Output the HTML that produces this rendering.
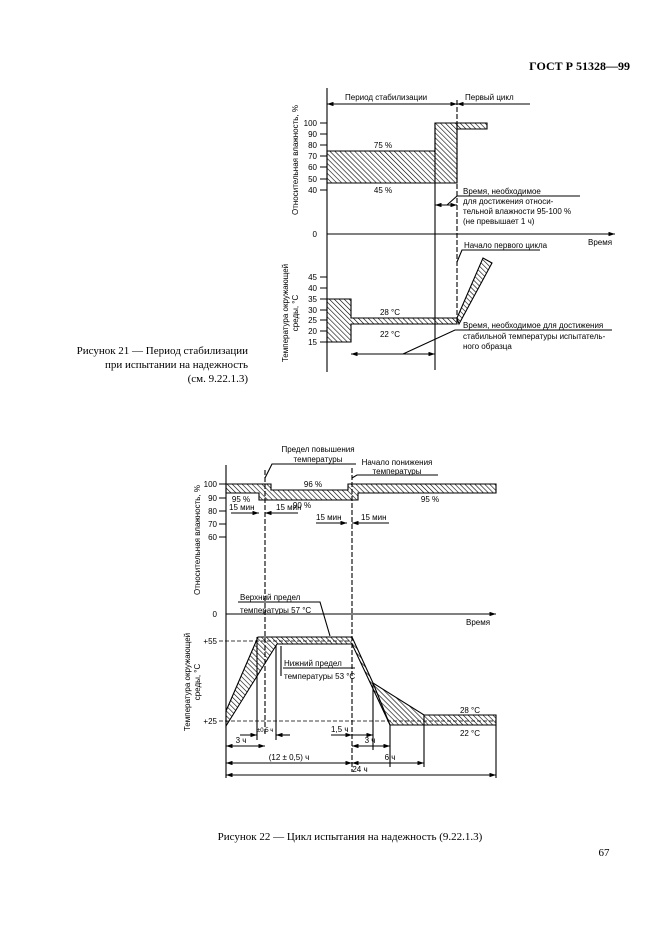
<!DOCTYPE html>
<html><head><meta charset="utf-8"><style>
html,body{margin:0;padding:0;background:#fff;}
svg{display:block;}
text{font-family:"Liberation Sans",sans-serif;font-size:8px;fill:#000;}
.s{font-family:"Liberation Serif",serif;font-size:11px;}
</style></head><body>
<svg width="661" height="935" viewBox="0 0 661 935" xmlns="http://www.w3.org/2000/svg">
<defs>
<pattern id="h" patternUnits="userSpaceOnUse" width="3.5" height="3.5" patternTransform="rotate(-45)">
<line x1="0" y1="0" x2="0" y2="3.5" stroke="#000" stroke-width="1.2"/></pattern>
<marker id="a" markerWidth="6" markerHeight="4" refX="6" refY="2" orient="auto-start-reverse"><path d="M0,0L6,2L0,4z" fill="#000"/></marker>
</defs>
<g stroke="#000" fill="none" stroke-width="1.1">
<text x="630" y="70" text-anchor="end" class="s" style="font-weight:bold;font-size:12px" stroke="none">ГОСТ Р 51328—99</text>

<!-- Figure 21 -->
<line x1="327" y1="88" x2="327" y2="372"/>
<line x1="327" y1="104" x2="457" y2="104" marker-start="url(#a)" marker-end="url(#a)"/>
<line x1="457" y1="104" x2="530" y2="104" marker-start="url(#a)"/>
<line x1="457" y1="100" x2="457" y2="322" stroke-dasharray="5,2"/>
<line x1="435" y1="123" x2="435" y2="370"/>
<path d="M320,123h7M320,134h7M320,145h7M320,156h7M320,167h7M320,179h7M320,190h7"/>
<path d="M327,151H435V123H457V183H327Z" fill="url(#h)"/>
<path d="M457,123H487V129H457Z" fill="url(#h)"/>
<line x1="327" y1="234" x2="615" y2="234" marker-end="url(#a)"/>
<path d="M320,277h7M320,288h7M320,299h7M320,310h7M320,320h7M320,331h7M320,342h7"/>
<path d="M327,299H351V318H457V324H351V342H327Z" fill="url(#h)"/>
<path d="M457,318L483,258L492,263L459,324Z" fill="url(#h)"/>
<line x1="435" y1="205" x2="457" y2="205" marker-start="url(#a)" marker-end="url(#a)"/>
<path d="M447,205L457,196H580"/>
<path d="M457,262L462,250H540"/>
<line x1="351" y1="354" x2="435" y2="354" marker-start="url(#a)" marker-end="url(#a)"/>
<path d="M403,354L455,330H612"/>
<g stroke="none">
<text x="345" y="100">Период стабилизации</text>
<text x="465" y="100">Первый цикл</text>
<text x="317" y="126" text-anchor="end">100</text>
<text x="317" y="137" text-anchor="end">90</text>
<text x="317" y="148" text-anchor="end">80</text>
<text x="317" y="159" text-anchor="end">70</text>
<text x="317" y="170" text-anchor="end">60</text>
<text x="317" y="182" text-anchor="end">50</text>
<text x="317" y="193" text-anchor="end">40</text>
<text x="317" y="237" text-anchor="end">0</text>
<text x="317" y="280" text-anchor="end">45</text>
<text x="317" y="291" text-anchor="end">40</text>
<text x="317" y="302" text-anchor="end">35</text>
<text x="317" y="313" text-anchor="end">30</text>
<text x="317" y="323" text-anchor="end">25</text>
<text x="317" y="334" text-anchor="end">20</text>
<text x="317" y="345" text-anchor="end">15</text>
<text x="383" y="148" text-anchor="middle">75 %</text>
<text x="383" y="193" text-anchor="middle">45 %</text>
<text x="390" y="315" text-anchor="middle">28 °С</text>
<text x="390" y="337" text-anchor="middle">22 °С</text>
<text x="463" y="194">Время, необходимое</text>
<text x="463" y="204">для достижения относи-</text>
<text x="463" y="214">тельной влажности 95-100 %</text>
<text x="463" y="224">(не превышает 1 ч)</text>
<text x="588" y="245">Время</text>
<text x="464" y="248">Начало первого цикла</text>
<text x="463" y="328">Время, необходимое для достижения</text>
<text x="463" y="339">стабильной температуры испытатель-</text>
<text x="463" y="349">ного образца</text>
<text transform="translate(298,160) rotate(-90)" text-anchor="middle">Относительная влажность, %</text>
<text transform="translate(288,313) rotate(-90)" text-anchor="middle">Температура окружающей</text>
<text transform="translate(298,313) rotate(-90)" text-anchor="middle">среды, °С</text>
<text x="248" y="354" class="s" text-anchor="end">Рисунок 21 — Период стабилизации</text>
<text x="248" y="368" class="s" text-anchor="end">при испытании на надежность</text>
<text x="248" y="382" class="s" text-anchor="end">(см. 9.22.1.3)</text>
</g>

<!-- Figure 22 -->
<line x1="226" y1="465" x2="226" y2="778"/>
<path d="M219,484h7M219,498h7M219,511h7M219,524h7M219,537h7"/>
<path d="M226,484H271V490H348V484H496V493H358V500H259V493H226Z" fill="url(#h)"/>
<line x1="265" y1="470" x2="265" y2="735" stroke-dasharray="5,2"/>
<line x1="352" y1="468" x2="352" y2="772" stroke-dasharray="5,2"/>
<path d="M265,478L272,464H356"/>
<path d="M352,478L357,475H438"/>
<line x1="231" y1="513" x2="259" y2="513" marker-end="url(#a)"/>
<line x1="298" y1="513" x2="265" y2="513" marker-end="url(#a)"/>
<line x1="316" y1="523" x2="347" y2="523" marker-end="url(#a)"/>
<line x1="389" y1="523" x2="352" y2="523" marker-end="url(#a)"/>
<line x1="226" y1="614" x2="496" y2="614" marker-end="url(#a)"/>
<path d="M238,602H320L330,636"/>
<path d="M219,641H352M219,721H496" stroke-dasharray="4,2" stroke-width="0.7"/>
<path d="M226,711L258,637H352L373,683L424,715H496V725H390L352,644H277L226,726Z" fill="url(#h)"/>
<path d="M373,683L390,725"/>
<path d="M257,637V740M276,645V740M373,683V750M390,725V767M424,715V767"/>
<path d="M283,668H355M281,646V676"/>
<line x1="240" y1="735" x2="257" y2="735" marker-end="url(#a)"/>
<line x1="290" y1="735" x2="276" y2="735" marker-end="url(#a)"/>
<line x1="331" y1="735" x2="352" y2="735" marker-end="url(#a)"/>
<line x1="352" y1="735" x2="373" y2="735" marker-end="url(#a)"/>
<line x1="226" y1="746" x2="265" y2="746" marker-start="url(#a)" marker-end="url(#a)"/>
<line x1="352" y1="746" x2="390" y2="746" marker-start="url(#a)" marker-end="url(#a)"/>
<line x1="226" y1="763" x2="352" y2="763" marker-start="url(#a)" marker-end="url(#a)"/>
<line x1="352" y1="763" x2="424" y2="763" marker-start="url(#a)" marker-end="url(#a)"/>
<line x1="226" y1="775" x2="496" y2="775" marker-start="url(#a)" marker-end="url(#a)"/>
<line x1="496" y1="725" x2="496" y2="778"/>
<g stroke="none">
<text x="318" y="452" text-anchor="middle">Предел повышения</text>
<text x="318" y="462" text-anchor="middle">температуры</text>
<text x="397" y="465" text-anchor="middle">Начало понижения</text>
<text x="397" y="474" text-anchor="middle">температуры</text>
<text x="217" y="487" text-anchor="end">100</text>
<text x="217" y="501" text-anchor="end">90</text>
<text x="217" y="514" text-anchor="end">80</text>
<text x="217" y="527" text-anchor="end">70</text>
<text x="217" y="540" text-anchor="end">60</text>
<text x="313" y="487" text-anchor="middle">96 %</text>
<text x="241" y="502" text-anchor="middle">95 %</text>
<text x="302" y="508" text-anchor="middle">90 %</text>
<text x="430" y="502" text-anchor="middle">95 %</text>
<text x="229" y="510">15 мин</text>
<text x="276" y="510">15 мин</text>
<text x="316" y="520">15 мин</text>
<text x="361" y="520">15 мин</text>
<text x="217" y="617" text-anchor="end">0</text>
<text x="466" y="625">Время</text>
<text x="240" y="600">Верхний предел</text>
<text x="240" y="613">температуры 57 °С</text>
<text x="284" y="666">Нижний предел</text>
<text x="284" y="679">температуры 53 °С</text>
<text x="217" y="644" text-anchor="end">+55</text>
<text x="217" y="724" text-anchor="end">+25</text>
<text x="470" y="713" text-anchor="middle">28 °С</text>
<text x="470" y="736" text-anchor="middle">22 °С</text>
<text x="257" y="732" style="font-size:6px">±0,5 ч</text>
<text x="331" y="732">1,5 ч</text>
<text x="241" y="743" text-anchor="middle">3 ч</text>
<text x="370" y="743" text-anchor="middle">3 ч</text>
<text x="289" y="760" text-anchor="middle">(12 ± 0,5) ч</text>
<text x="390" y="760" text-anchor="middle">6 ч</text>
<text x="360" y="772" text-anchor="middle">24 ч</text>
<text transform="translate(200,540) rotate(-90)" text-anchor="middle">Относительная влажность, %</text>
<text transform="translate(190,682) rotate(-90)" text-anchor="middle">Температура окружающей</text>
<text transform="translate(200,682) rotate(-90)" text-anchor="middle">среды, °С</text>
<text x="350" y="840" class="s" text-anchor="middle">Рисунок 22 — Цикл испытания на надежность (9.22.1.3)</text>
<text x="604" y="856" class="s" text-anchor="middle">67</text>
</g>
</g>
</svg>
</body></html>
